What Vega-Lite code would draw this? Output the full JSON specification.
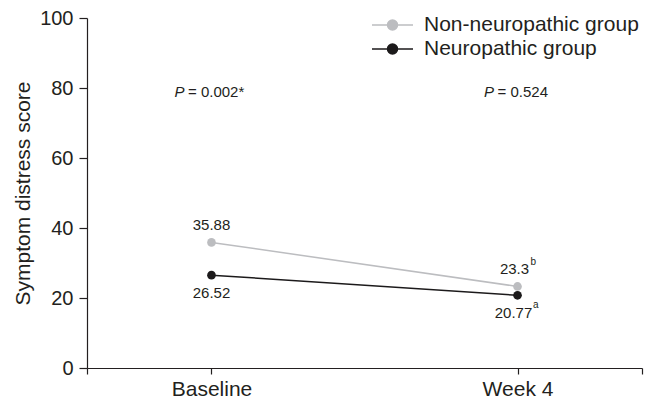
{
  "$schema": "https://vega.github.io/schema/vega-lite/v6.json",
  "width": 555,
  "height": 350,
  "autosize": {"type": "none"},
  "padding": {"left": 87, "top": 18, "right": 17, "bottom": 35},
  "background": "white",
  "config": {
    "font": "Liberation Sans",
    "view": {"stroke": null},
    "axis": {"domainColor": "#231f20", "tickColor": "#231f20", "labelColor": "#231f20", "titleColor": "#231f20", "domainWidth": 1.2, "tickWidth": 1.2, "grid": false}
  },
  "datasets": {
    "scores": [
      {"group": "Non-neuropathic group", "week": 0, "score": 35.88, "label": "35.88", "sup": ""},
      {"group": "Non-neuropathic group", "week": 4, "score": 23.3, "label": "23.3", "sup": "b"},
      {"group": "Neuropathic group", "week": 0, "score": 26.52, "label": "26.52", "sup": ""},
      {"group": "Neuropathic group", "week": 4, "score": 20.77, "label": "20.77", "sup": "a"}
    ],
    "pvals": [
      {"week": 0, "p": "P", "rest": "= 0.002*"},
      {"week": 4, "p": "P", "rest": "= 0.524"}
    ]
  },
  "encoding": {
    "x": {
      "field": "week", "type": "quantitative",
      "scale": {"domain": [-1.627, 5.627], "nice": false, "zero": false},
      "axis": {
        "title": null,
        "values": [-1.627, 0, 4, 5.627],
        "labelExpr": "datum.value == 0 ? 'Baseline' : (datum.value == 4 ? 'Week 4' : '')",
        "tickSize": 6, "labelPadding": 4, "labelFontSize": 21, "labelFlush": false, "labelOverlap": false
      }
    }
  },
  "layer": [
    {
      "data": {"name": "scores"},
      "mark": {"type": "line", "strokeWidth": 1.5},
      "encoding": {
        "y": {
          "field": "score", "type": "quantitative",
          "scale": {"domain": [0, 100], "nice": false},
          "axis": {
            "title": "Symptom distress score",
            "values": [0, 20, 40, 60, 80, 100],
            "tickSize": 8, "labelPadding": 6, "labelFontSize": 20,
            "titleFontSize": 21, "titleFontWeight": "normal", "titlePadding": 6
          }
        },
        "color": {
          "field": "group", "type": "nominal",
          "scale": {"domain": ["Non-neuropathic group", "Neuropathic group"], "range": ["#bcbdc0", "#1c1a1b"]},
          "legend": {
            "title": null,
            "orient": "none",
            "legendX": 295,
            "legendY": -3.5,
            "padding": 0,
            "symbolType": "M-4.1,0H4.1M1,0A1,1 0 1,1 -1,0A1,1 0 1,1 1,0Z",
            "symbolSize": 100,
            "symbolStrokeWidth": 1.5,
            "labelFontSize": 21,
            "labelLimit": 0,
            "labelColor": "#231f20",
            "labelOffset": 21,
            "rowPadding": 2,
            "encode": {"symbols": {"update": {"fill": {"scale": "color", "field": "value"}, "fillOpacity": {"value": 1}}}}
          }
        }
      }
    },
    {
      "data": {"name": "scores"},
      "mark": {"type": "point", "filled": true, "size": 75, "opacity": 1},
      "encoding": {
        "y": {"field": "score", "type": "quantitative"},
        "color": {"field": "group", "type": "nominal", "legend": null}
      }
    },
    {
      "data": {"name": "scores"},
      "transform": [{"filter": "datum.group == 'Non-neuropathic group' && datum.week == 0"}],
      "mark": {"type": "text", "fontSize": 15, "dy": -17, "color": "#231f20"},
      "encoding": {"y": {"field": "score", "type": "quantitative"}, "text": {"field": "label"}}
    },
    {
      "data": {"name": "scores"},
      "transform": [{"filter": "datum.group == 'Non-neuropathic group' && datum.week == 4"}],
      "mark": {"type": "text", "fontSize": 15, "dy": -17, "dx": -3, "color": "#231f20"},
      "encoding": {"y": {"field": "score", "type": "quantitative"}, "text": {"field": "label"}}
    },
    {
      "data": {"name": "scores"},
      "transform": [{"filter": "datum.group == 'Neuropathic group' && datum.week == 0"}],
      "mark": {"type": "text", "fontSize": 15, "dy": 18, "color": "#231f20"},
      "encoding": {"y": {"field": "score", "type": "quantitative"}, "text": {"field": "label"}}
    },
    {
      "data": {"name": "scores"},
      "transform": [{"filter": "datum.group == 'Neuropathic group' && datum.week == 4"}],
      "mark": {"type": "text", "fontSize": 15, "dy": 18, "dx": -4, "color": "#231f20"},
      "encoding": {"y": {"field": "score", "type": "quantitative"}, "text": {"field": "label"}}
    },
    {
      "data": {"name": "scores"},
      "transform": [{"filter": "datum.group == 'Non-neuropathic group' && datum.sup != ''"}],
      "mark": {"type": "text", "fontSize": 10, "align": "left", "dx": 13, "dy": -24, "color": "#231f20"},
      "encoding": {"y": {"field": "score", "type": "quantitative"}, "text": {"field": "sup"}}
    },
    {
      "data": {"name": "scores"},
      "transform": [{"filter": "datum.group == 'Neuropathic group' && datum.sup != ''"}],
      "mark": {"type": "text", "fontSize": 10, "align": "left", "dx": 15.5, "dy": 10, "color": "#231f20"},
      "encoding": {"y": {"field": "score", "type": "quantitative"}, "text": {"field": "sup"}}
    },
    {
      "data": {"name": "pvals"},
      "transform": [{"filter": "datum.week == 0"}],
      "mark": {"type": "text", "fontSize": 15, "fontStyle": "italic", "align": "right", "dx": -27, "color": "#231f20"},
      "encoding": {"y": {"datum": 78.8, "type": "quantitative"}, "text": {"field": "p"}}
    },
    {
      "data": {"name": "pvals"},
      "transform": [{"filter": "datum.week == 0"}],
      "mark": {"type": "text", "fontSize": 15, "align": "left", "dx": -23.5, "color": "#231f20"},
      "encoding": {"y": {"datum": 78.8, "type": "quantitative"}, "text": {"field": "rest"}}
    },
    {
      "data": {"name": "pvals"},
      "transform": [{"filter": "datum.week == 4"}],
      "mark": {"type": "text", "fontSize": 15, "fontStyle": "italic", "align": "right", "dx": -23.5, "color": "#231f20"},
      "encoding": {"y": {"datum": 78.8, "type": "quantitative"}, "text": {"field": "p"}}
    },
    {
      "data": {"name": "pvals"},
      "transform": [{"filter": "datum.week == 4"}],
      "mark": {"type": "text", "fontSize": 15, "align": "left", "dx": -20, "color": "#231f20"},
      "encoding": {"y": {"datum": 78.8, "type": "quantitative"}, "text": {"field": "rest"}}
    }
  ]
}
